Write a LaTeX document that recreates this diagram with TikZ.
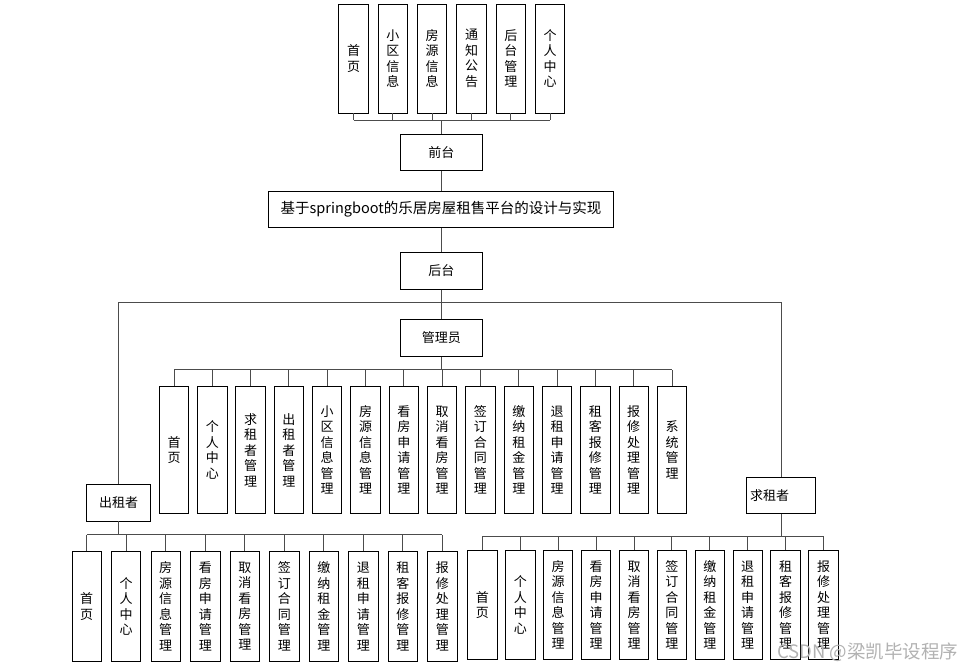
\documentclass[tikz,border=0pt]{standalone}
\usepackage{fontspec}
\newfontfamily\cjk{Noto Sans CJK SC}
\begin{document}
\begin{tikzpicture}[x=1pt,y=-1pt,
  box/.style={draw=black,line width=0.9pt,inner sep=0pt,align=center,font=\cjk\fontsize{13}{15.5}\selectfont},
  hbox/.style={box,minimum width=82pt,minimum height=36.5pt},
  vb/.style={box,minimum width=29.4pt},
  topb/.style={vb,minimum height=109pt},
  admb/.style={vb,minimum height=127.4pt},
  lb/.style={vb,minimum height=109.3pt},
  rb/.style={vb,minimum height=109.4pt},
  conn/.style={draw=black!70,line width=1pt},
  wm/.style={text=black!30,font=\cjk\fontsize{18.5}{20}\selectfont,inner sep=0pt}
]
\useasboundingbox (0,0) rectangle (965,669);
\fill[white] (0,0) rectangle (965,669);

% top row
\foreach \i/\t in {1/{首\\页},2/{小\\区\\信\\息},3/{房\\源\\信\\息},4/{通\\知\\公\\告},5/{后\\台\\管\\理},6/{个\\人\\中\\心}}{
  \node[topb] (t\i) at ({353.6+39.32*(\i-1)},58.5) {\t};
}
\node[hbox] (qt) at (441.3,152.2) {前台};
\node[box,minimum width=345.4pt,minimum height=36.2pt,font=\cjk\fontsize{14.5}{16}\selectfont] (title) at (441,209.4) {基于springboot的乐居房屋租售平台的设计与实现};
\node[hbox] (ht) at (441.3,270.9) {后台};
\node[hbox,minimum height=37pt] (gly) at (441.3,337.8) {管理员};

% admin row
\foreach \i/\t in {1/{首\\页},2/{个\\人\\中\\心},3/{求\\租\\者\\管\\理},4/{出\\租\\者\\管\\理},5/{小\\区\\信\\息\\管\\理},6/{房\\源\\信\\息\\管\\理},7/{看\\房\\申\\请\\管\\理},8/{取\\消\\看\\房\\管\\理},9/{签\\订\\合\\同\\管\\理},10/{缴\\纳\\租\\金\\管\\理},11/{退\\租\\申\\请\\管\\理},12/{租\\客\\报\\修\\管\\理},13/{报\\修\\处\\理\\管\\理},14/{系\\统\\管\\理}}{
  \node[admb] (a\i) at ({174+38.31*(\i-1)},450) {\t};
}

\node[box,minimum width=64pt,minimum height=36.7pt] (czz) at (118.7,502.65) {出租者};
\node[box,minimum width=69pt,minimum height=36.4pt,text width=62pt,align=left] (qzz) at (781.2,495.5) {求租者};

% left bottom row
\foreach \i/\t in {1/{首\\页},2/{个\\人\\中\\心},3/{房\\源\\信\\息\\管\\理},4/{看\\房\\申\\请\\管\\理},5/{取\\消\\看\\房\\管\\理},6/{签\\订\\合\\同\\管\\理},7/{缴\\纳\\租\\金\\管\\理},8/{退\\租\\申\\请\\管\\理},9/{租\\客\\报\\修\\管\\理},10/{报\\修\\处\\理\\管\\理}}{
  \node[lb] (l\i) at ({86.7+39.52*(\i-1)},606.35) {\t};
}
% right bottom row
\foreach \i/\t in {1/{首\\页},2/{个\\人\\中\\心},3/{房\\源\\信\\息\\管\\理},4/{看\\房\\申\\请\\管\\理},5/{取\\消\\看\\房\\管\\理},6/{签\\订\\合\\同\\管\\理},7/{缴\\纳\\租\\金\\管\\理},8/{退\\租\\申\\请\\管\\理},9/{租\\客\\报\\修\\管\\理},10/{报\\修\\处\\理\\管\\理}}{
  \node[rb] (r\i) at ({482.4+37.9*(\i-1)},605) {\t};
}

% bus coordinates
\coordinate (tbus) at (441.3,120);
\coordinate (big) at (441.3,302.7);
\coordinate (abus) at (441.3,369.7);
\coordinate (lbus) at (118.7,534.7);
\coordinate (rbus) at (781,536.7);

% top connectors
\draw[conn] (t1.south |- tbus) -- (t6.south |- tbus);
\foreach \i in {1,...,6}{\draw[conn] (t\i.south) -- (t\i.south |- tbus);}
\draw[conn] (qt.north) -- (qt.north |- tbus);
\draw[conn] (qt.south) -- (title.north -| qt.south);
\draw[conn] (title.south -| ht.north) -- (ht.north);
\draw[conn] (ht.south) -- (gly.north);
\draw[conn] (czz.north) -- (czz.north |- big) -- (qzz.north |- big) -- (qzz.north);

% admin connectors
\draw[conn] (gly.south) -- (abus);
\draw[conn] (a1.north |- abus) -- (a14.north |- abus);
\foreach \i in {1,...,14}{\draw[conn] (a\i.north) -- (a\i.north |- abus);}

% left connectors
\draw[conn] (czz.south) -- (lbus);
\draw[conn] (l1.north |- lbus) -- (l10.north |- lbus);
\foreach \i in {1,...,10}{\draw[conn] (l\i.north) -- (l\i.north |- lbus);}

% right connectors
\draw[conn] (qzz.south) -- (qzz.south |- rbus);
\draw[conn] (r1.north |- rbus) -- (r10.north |- rbus);
\foreach \i in {1,...,10}{\draw[conn] (r\i.north) -- (r\i.north |- rbus);}

% watermark
\node[wm,anchor=west] (wmk) at (777,652) {CSDN @梁凯毕设程序};
\end{tikzpicture}
\end{document}
